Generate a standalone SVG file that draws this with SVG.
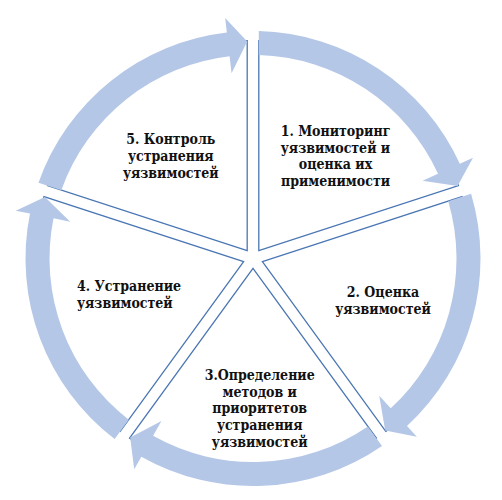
<svg xmlns="http://www.w3.org/2000/svg" xmlns:xlink="http://www.w3.org/1999/xlink" width="502" height="500" viewBox="0 0 502 500">
<style>
.wedge{fill:#ffffff;stroke:#4a76b4;stroke-width:1.3;stroke-linejoin:miter}
.arrow{fill:#b4c7e7;stroke:none}
.t{font-family:'DejaVu Serif Condensed','DejaVu Serif',serif;font-weight:700;font-size:14px;fill:#111111}
</style>
<defs>
<path id="wedge" d="M0,-9.87 L-123.40,-179.71 A218,218 0 0 1 123.40,-179.71 Z"/>
<path id="arrow" d="M-114.87,-167.97 L-128.99,-187.40 A227.5,227.5 0 0 1 111.68,-198.20 L118.80,-210.84 L122.81,-178.90 L91.55,-162.48 L99.90,-177.29 A203.5,203.5 0 0 0 -114.87,-167.97 Z"/>
</defs>
<rect width="502" height="500" fill="#ffffff"/>
<g id="node1">
<use xlink:href="#wedge" class="wedge" transform="translate(253,258.5) rotate(36)"/>
<text class="t" text-anchor="middle"><tspan x="335.5" y="136">1. Мониторинг</tspan><tspan x="335.5" y="152.7">уязвимостей и</tspan><tspan x="335.5" y="169.4">оценка их</tspan><tspan x="335.5" y="186.1">применимости</tspan></text>
</g>
<g id="node2">
<use xlink:href="#wedge" class="wedge" transform="translate(253,258.5) rotate(108)"/>
<text class="t" text-anchor="middle"><tspan x="383" y="297">2. Оценка</tspan><tspan x="383" y="313.7">уязвимостей</tspan></text>
</g>
<g id="node3">
<use xlink:href="#wedge" class="wedge" transform="translate(253,258.5) rotate(180)"/>
<text class="t" text-anchor="middle"><tspan x="259.7" y="380">3.Определение</tspan><tspan x="259.7" y="396.7">методов и</tspan><tspan x="259.7" y="413.4">приоритетов</tspan><tspan x="259.7" y="430.1">устранения</tspan><tspan x="259.7" y="446.8">уязвимостей</tspan></text>
</g>
<g id="node4">
<use xlink:href="#wedge" class="wedge" transform="translate(253,258.5) rotate(252)"/>
<text class="t"><tspan x="77" y="291">4. Устранение</tspan><tspan x="77" y="307.7">уязвимостей</tspan></text>
</g>
<g id="node5">
<use xlink:href="#wedge" class="wedge" transform="translate(253,258.5) rotate(324)"/>
<text class="t" text-anchor="middle"><tspan x="170.8" y="144.3">5. Контроль</tspan><tspan x="170.8" y="161">устранения</tspan><tspan x="170.8" y="177.7">уязвимостей</tspan></text>
</g>
<g id="connectors" transform="translate(253,258.5)">
<use xlink:href="#arrow" class="arrow" transform="rotate(36)"/>
<use xlink:href="#arrow" class="arrow" transform="rotate(108)"/>
<use xlink:href="#arrow" class="arrow" transform="rotate(180)"/>
<use xlink:href="#arrow" class="arrow" transform="rotate(252)"/>
<use xlink:href="#arrow" class="arrow" transform="rotate(324)"/>
</g>
</svg>
